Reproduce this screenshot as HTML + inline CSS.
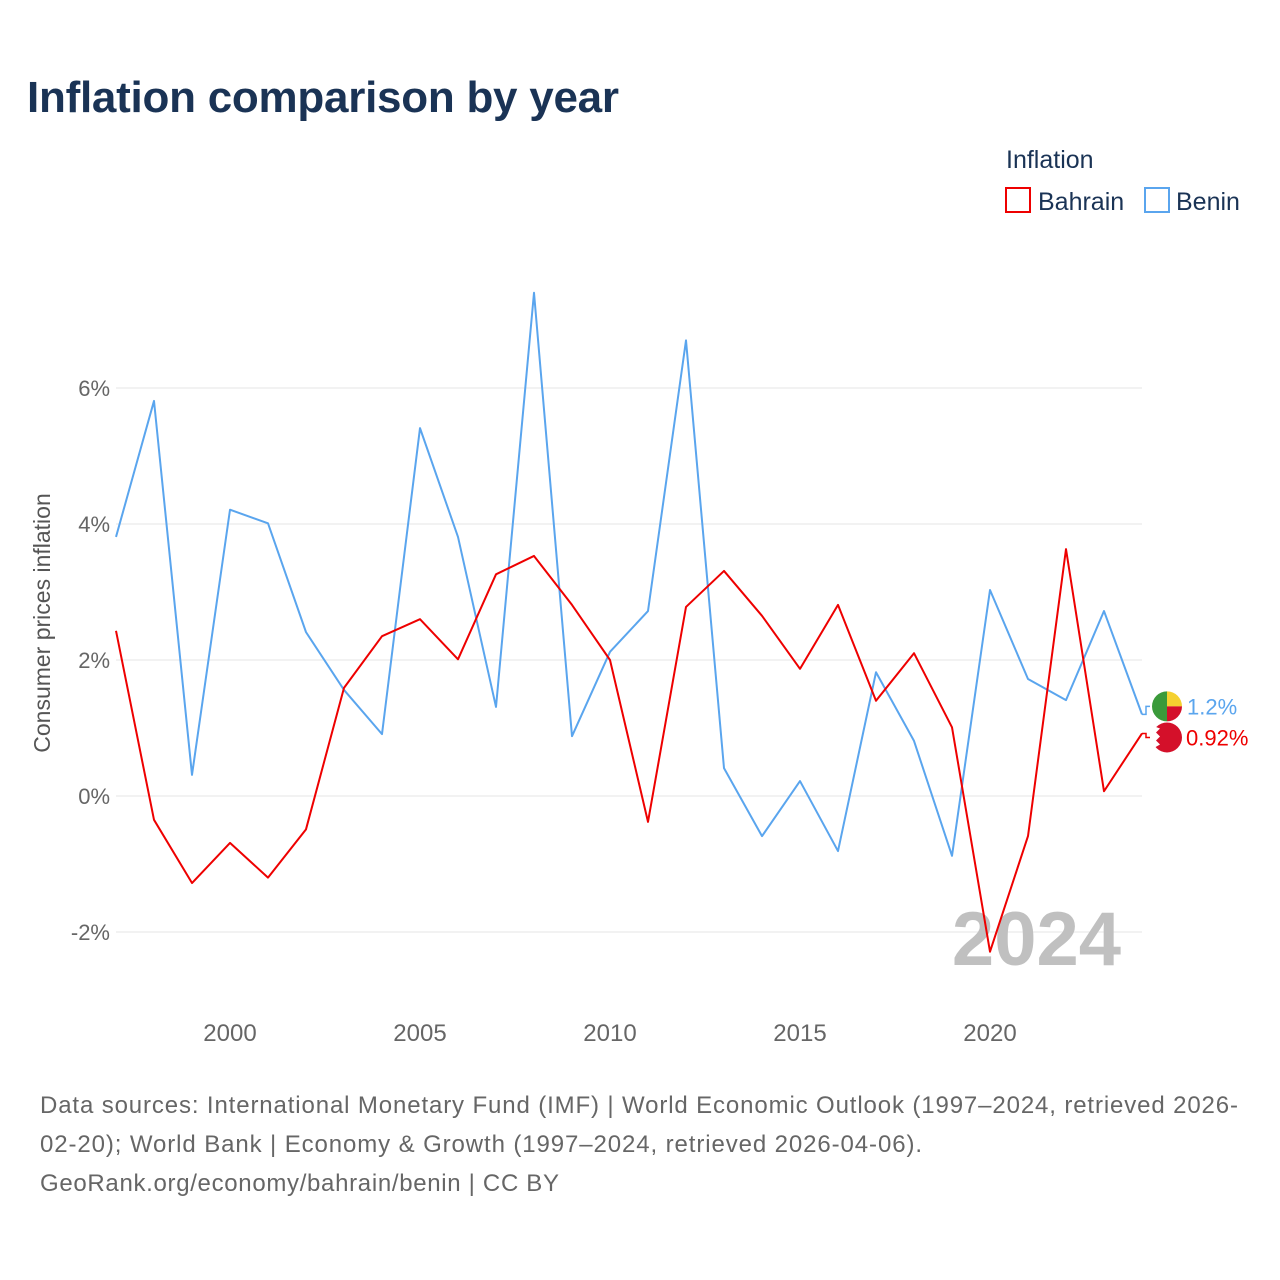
<!DOCTYPE html>
<html><head><meta charset="utf-8">
<style>
body{margin:0;background:#fff;font-family:"Liberation Sans",sans-serif;}
#wrap{position:relative;width:1280px;height:1280px;overflow:hidden;}
</style></head>
<body>
<div id="wrap">
<svg id="chart" width="1280" height="1280">
<text x="27" y="112" font-size="44" font-weight="bold" fill="#1a3355" textLength="592">Inflation comparison by year</text>
<text x="1006" y="168" font-size="25" fill="#1a3355">Inflation</text>
<g>
<rect x="1006" y="188" width="24" height="24" fill="#fff" stroke="#e00" stroke-width="2"/>
<text x="1038" y="210" font-size="25" fill="#1a3355">Bahrain</text></g>
<g>
<rect x="1145" y="188" width="24" height="24" fill="#fff" stroke="#5aa5ee" stroke-width="2"/>
<text x="1176" y="210" font-size="25" fill="#1a3355">Benin</text></g>
<g id="grid"></g>
<g id="yticks"></g>
<g id="xticks"></g>
<text transform="translate(50,623) rotate(-90)" text-anchor="middle" font-size="23" fill="#555">Consumer prices inflation</text>
<text x="1121" y="965" text-anchor="end" font-size="76" font-weight="bold" fill="#c0c0c0">2024</text>
<g id="series"></g>
<text x="40" y="1113" font-size="24" fill="#666" textLength="1198">Data sources: International Monetary Fund (IMF) | World Economic Outlook (1997–2024, retrieved 2026-</text>
<text x="40" y="1152" font-size="24" fill="#666" textLength="882">02-20); World Bank | Economy &amp; Growth (1997–2024, retrieved 2026-04-06).</text>
<text x="40" y="1191" font-size="24" fill="#666" textLength="519">GeoRank.org/economy/bahrain/benin | CC BY</text>
</svg>
</div>
<script>
const years = [1997,1998,1999,2000,2001,2002,2003,2004,2005,2006,2007,2008,2009,2010,2011,2012,2013,2014,2015,2016,2017,2018,2019,2020,2021,2022,2023,2024];
const bahrain = [2.43,-0.35,-1.28,-0.69,-1.2,-0.49,1.59,2.35,2.6,2.01,3.26,3.53,2.81,2.0,-0.38,2.78,3.31,2.65,1.87,2.81,1.4,2.1,1.01,-2.29,-0.59,3.63,0.07,0.92];
const benin = [3.81,5.81,0.31,4.21,4.01,2.41,1.56,0.91,5.41,3.81,1.31,7.4,0.88,2.12,2.72,6.7,0.41,-0.59,0.22,-0.81,1.82,0.81,-0.88,3.03,1.72,1.41,2.72,1.2];
const yTicks = [-2,0,2,4,6];
const xTicks = [2000,2005,2010,2015,2020];

const NS="http://www.w3.org/2000/svg";
const xs = y => 116 + (y-1997)*38;
const ys = v => 796 - v*68;
function mk(tag, attrs, parent){const e=document.createElementNS(NS,tag);for(const k in attrs)e.setAttribute(k,attrs[k]);parent.appendChild(e);return e;}
const grid=document.getElementById('grid'), yt=document.getElementById('yticks'), xt=document.getElementById('xticks'), ser=document.getElementById('series');
yTicks.forEach(t=>{
  const l=mk('line',{x1:116,x2:1142,y1:ys(t),y2:ys(t),stroke:'#e6e6e6','stroke-width':1},grid);
  
  
  const tx=mk('text',{x:110,y:ys(t)+8,'text-anchor':'end','font-size':22,fill:'#666'},yt);
  tx.textContent=t+'%';
  
  
});
xTicks.forEach(t=>{
  const tx=mk('text',{x:xs(t),y:1041,'text-anchor':'middle','font-size':24,fill:'#666'},xt);
  tx.textContent=t;
  
  
});
function line(vals,color,name){
  const p=mk('polyline',{points:vals.map((v,i)=>xs(years[i])+','+ys(v)).join(' '),fill:'none',stroke:color,'stroke-width':2,'stroke-linejoin':'round'},ser);
  
  
}
line(benin,'#5aa5ee','benin-line');
line(bahrain,'#e00','bahrain-line');
const lb=benin[benin.length-1], lr=bahrain[bahrain.length-1];
const by=ys(lb)-8, ry=ys(lr)+4;
mk('path',{d:`M1142 ${ys(lb)} L1146 ${ys(lb)} L1146 ${by} L1150 ${by}`,fill:'none',stroke:'#5aa5ee','stroke-width':1.5},ser);
mk('path',{d:`M1142 ${ys(lr)} L1146 ${ys(lr)} L1146 ${ry} L1150 ${ry}`,fill:'none',stroke:'#e00','stroke-width':1.5},ser);
const f1=mk('g',{},ser);


mk('path',{d:`M1167 ${by-15} A15 15 0 0 0 1167 ${by+15} Z`,fill:'#3a9a3a'},f1);
mk('path',{d:`M1167 ${by-15} A15 15 0 0 1 1182 ${by} L1167 ${by} Z`,fill:'#f5d130'},f1);
mk('path',{d:`M1167 ${by} L1182 ${by} A15 15 0 0 1 1167 ${by+15} Z`,fill:'#d4102a'},f1);
const t1=mk('text',{x:1187,y:by+8,'font-size':22,fill:'#5aa5ee'},ser);
t1.textContent=lb+'%';


const f2=mk('g',{},ser);


mk('circle',{cx:1167,cy:ry,r:15,fill:'#d4102a'},f2);
mk('path',{d:`M1152 ${ry-12} L1160 ${ry-9} L1156 ${ry-5} L1160 ${ry-1} L1156 ${ry+3} L1160 ${ry+7} L1153 ${ry+11} L1152 ${ry+11} Z`,fill:'#fff'},f2);
const t2=mk('text',{x:1186,y:ry+8,'font-size':22,fill:'#e00'},ser);
t2.textContent=lr+'%';


</script>
</body></html>
